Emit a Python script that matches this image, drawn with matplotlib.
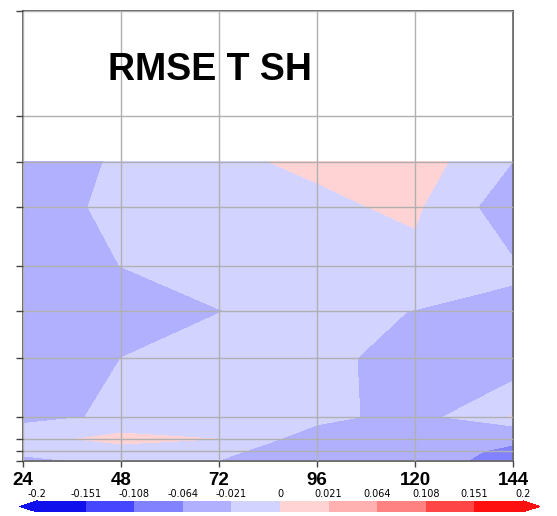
import numpy as np
import matplotlib
matplotlib.use("Agg")
import matplotlib.pyplot as plt
from matplotlib.colors import ListedColormap, BoundaryNorm

# forecast lead times (h)
lead_hours = [24, 48, 72, 96, 120, 144]
# vertical level coordinate (arbitrary units, bottom = 0)
level_coord = [0, 10, 22, 44, 103, 150, 195, 254, 299]
extra_level_ticks = [345, 450]

# RMSE difference, rows = levels (bottom -> top), columns = lead times
rmse_j0 = [-0.030, -0.012, -0.0216, -0.035, -0.0195, -0.103]
rmse_j1 = [-0.012, -0.0091, -0.014, -0.040, -0.038, -0.075]
rmse_j2 = [-0.008, 0.0066, -0.0002, -0.0337, -0.035, -0.053]
rmse_j3 = [-0.0265, -0.0178, -0.012, -0.014, -0.030, 0.001]
rmse_j4 = [-0.040, -0.021, -0.012, -0.0113, -0.035, -0.035]
rmse_j5 = [-0.045, -0.035, -0.0215, -0.015, -0.0215, -0.024]
rmse_j6 = [-0.035, -0.0208, -0.010, -0.008, -0.0053, -0.0188]
rmse_j7 = [-0.0387, -0.012, -0.010, -0.00325, 0.003, -0.0345]
rmse_j8 = [-0.048, -0.015, -0.003, 0.00285, 0.0107, -0.0212]

contour_levels = [-0.2, -0.151, -0.108, -0.064, -0.021, 0, 0.021, 0.064, 0.108, 0.151, 0.2]
level_labels = ["-0.2", "-0.151", "-0.108", "-0.064", "-0.021", "0",
                "0.021", "0.064", "0.108", "0.151", "0.2"]
title_text = "RMSE T SH"

fill_colors = ["#1010ec", "#4646ff", "#8282ff", "#b0b0ff", "#d3d3ff",
               "#ffd3d3", "#ffb0b0", "#ff8282", "#ff4646", "#ff1010"]

Z = np.array([rmse_j0, rmse_j1, rmse_j2, rmse_j3, rmse_j4,
              rmse_j5, rmse_j6, rmse_j7, rmse_j8])
X, Y = np.meshgrid(lead_hours, level_coord)

cmap = ListedColormap(fill_colors)
cmap.set_under(fill_colors[0])
cmap.set_over(fill_colors[-1])
norm = BoundaryNorm(contour_levels, cmap.N)

fig = plt.figure(figsize=(5.57, 5.16), dpi=100)
ax = fig.add_axes([0.0413, 0.1066, 0.8797, 0.8721])
cs = ax.contourf(X, Y, Z, levels=contour_levels, cmap=cmap, norm=norm, extend="both")

ax.set_xlim(24, 144)
ax.set_ylim(0, 450)
ax.set_xticks(lead_hours)
ax.set_xticklabels([str(h) for h in lead_hours],
                   fontdict=dict(family="Liberation Sans", weight="bold", size=13.5))
ax.set_yticks(level_coord + extra_level_ticks)
ax.set_yticklabels([])
ax.tick_params(axis="x", length=4, width=1, pad=4, color="#444444")
ax.tick_params(axis="y", length=5, width=1, color="#444444")
ax.set_axisbelow(False)
ax.grid(True, color="#b0b0b0", linewidth=1.0)
for s in ax.spines.values():
    s.set_color("#555555")
    s.set_linewidth(1.2)

ax.text(0.174, 0.846, title_text, transform=ax.transAxes, ha="left", va="baseline",
        fontsize=27, fontweight="bold", family="Liberation Sans")

cax = fig.add_axes([0.0359, 0.0078, 0.9336, 0.0215])
cb = fig.colorbar(cs, cax=cax, orientation="horizontal", ticks=contour_levels,
                  extendfrac=0.035)
cb.outline.set_visible(False)
cax.xaxis.set_ticks_position("top")
cax.xaxis.set_label_position("top")
cax.set_xticklabels(level_labels)
cax.tick_params(axis="x", length=0, pad=1.5, labelsize=7)

fig.savefig("out.png", dpi=100)
